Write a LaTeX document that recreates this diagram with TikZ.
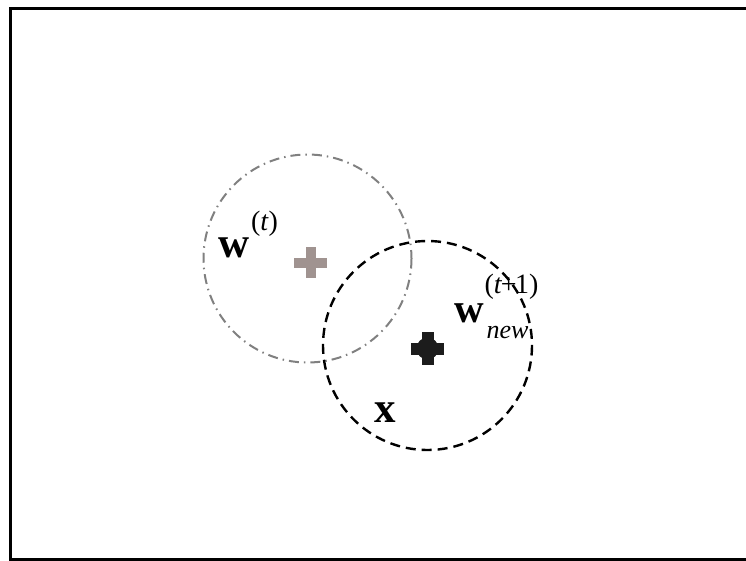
\documentclass[tikz,border=0pt]{standalone}
\usepackage{fontspec}
\setmainfont{Liberation Serif}
\definecolor{plusgray}{RGB}{160,147,144}
\definecolor{circgray}{RGB}{128,128,128}
\definecolor{plusblack}{RGB}{28,28,28}
\begin{document}
\begin{tikzpicture}[x=1pt,y=-1pt,
  frame/.style={line width=3pt,black},
  oldcirc/.style={circgray,line width=2pt,dash pattern=on 10pt off 5pt on 1.5pt off 5pt},
  newcirc/.style={black,line width=2.4pt,dash pattern=on 10pt off 6pt},
  lbl/.style={inner sep=0pt,outer sep=0pt}]
\useasboundingbox (0,0) rectangle (746,560);
% frame
\coordinate (fr1) at (746,8);
\coordinate (fr2) at (10,8);
\coordinate (fr3) at (10,559);
\coordinate (fr4) at (746,559);
\draw[frame] (fr1) -- (fr2) -- (fr3) -- (fr4);
% circles
\coordinate (cold) at (307.5,258.5);
\coordinate (cnew) at (427.5,345.5);
\draw[oldcirc] (cold) circle[radius=104];
\draw[newcirc] (cnew) circle[radius=104.5];
% gray plus
\coordinate (pg) at (310.5,262.5);
\fill[plusgray] ([xshift=-16.5,yshift=-5]pg) rectangle ([xshift=16.5,yshift=5]pg);
\fill[plusgray] ([xshift=-5,yshift=-15.5]pg) rectangle ([xshift=5,yshift=15.5]pg);
% black plus
\coordinate (pb) at (427.5,348.5);
\fill[plusblack] (pb) circle[radius=11];
\fill[plusblack] ([xshift=-16.5,yshift=-6]pb) rectangle ([xshift=16.5,yshift=6]pb);
\fill[plusblack] ([xshift=-6,yshift=-16.5]pb) rectangle ([xshift=6,yshift=16.5]pb);
% labels
\node[lbl,anchor=base west] (wt) at (218,257)
  {\fontsize{43}{43}\selectfont\bfseries w\kern2pt\raisebox{27pt}{\fontsize{28}{28}\selectfont\mdseries(\textit{t})}};
\node[lbl,anchor=base west] (wn) at (454,322)
  {\fontsize{41}{41}\selectfont\bfseries w\kern1pt\rlap{\raisebox{29pt}{\fontsize{28}{28}\selectfont\mdseries(\textit{t}\kern-1.5pt+\kern-1.5pt1)}}\kern2pt\raisebox{-16pt}{\fontsize{26}{26}\selectfont\mdseries\itshape new}};
\node[lbl,anchor=base west] (xl) at (374,422)
  {\fontsize{43}{43}\selectfont\bfseries x};
\end{tikzpicture}
\end{document}
